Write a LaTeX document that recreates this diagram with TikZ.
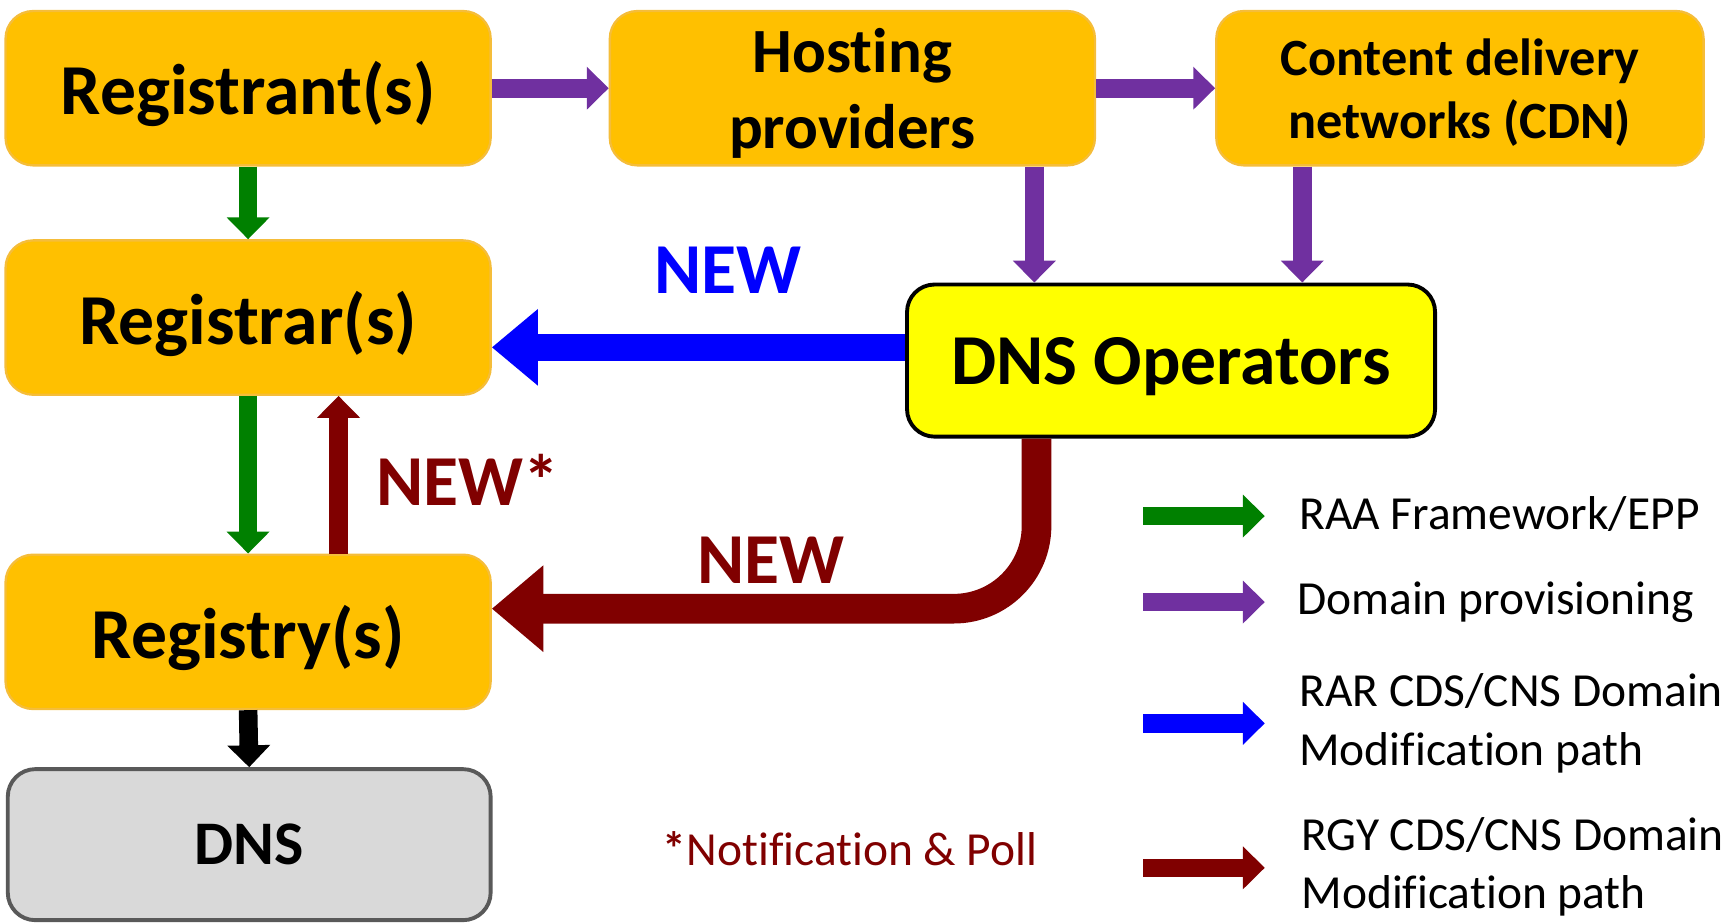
\documentclass[tikz,border=0pt]{standalone}
\usepackage{fontspec}
\setmainfont{Carlito}[Ligatures=NoCommon]
\usepackage{xcolor}
\usetikzlibrary{arrows.meta}
\usetikzlibrary{positioning}
\definecolor{C0}{HTML}{FFC000}
\definecolor{C1}{HTML}{F5BD3A}
\definecolor{C2}{HTML}{008000}
\definecolor{C3}{HTML}{7030A0}
\definecolor{C4}{HTML}{0000FF}
\definecolor{C5}{HTML}{800000}
\definecolor{C6}{HTML}{D9D9D9}
\definecolor{C7}{HTML}{595959}
\definecolor{C8}{HTML}{FFFF00}
\tikzset{
  box/.style={rounded corners=0.5cm, minimum width=8.8cm, minimum height=2.8cm,
    align=center, inner sep=0pt, text depth=0pt, font=\fontsize{37}{44}\selectfont\bfseries},
  orangebox/.style={box, fill=C0, draw=C1, line width=1.2pt},
  flowarrow/.style={line width=9.6pt, -{Triangle[length=11.3pt,width=21.5pt]}},
  bluearrow/.style={C4, line width=13.6pt, -{Triangle[length=23.8pt,width=38pt]}},
  redarrow/.style={C5, line width=15.3pt, rounded corners=1.5cm, -{Triangle[length=26.6pt,width=43pt]}},
  newlabel/.style={font=\fontsize{37}{44}\selectfont\bfseries},
  legendtext/.style={anchor=west, align=left, inner sep=0pt, font=\fontsize{24.5}{30}\selectfont}
}

\begin{document}
\begin{tikzpicture}[x=0.02cm,y=-0.02cm]
\useasboundingbox (0,0) rectangle (1568,837);
% boxes
\node[orangebox] (ant) at (225,80) {Registrant(s)};
\node[orangebox, font=\fontsize{32.5}{39}\selectfont\bfseries] (host) at (773,80) {Hosting\\providers};
\node[orangebox, minimum width=8.84cm, font=\fontsize{27}{32.5}\selectfont\bfseries] (cdn) at (1324,80) {Content delivery\\networks (CDN)};
\node[orangebox] (rar) at (225,288) {Registrar(s)};
\node[orangebox] (rgy) at (225,573) {Registry(s)};
\node[box, fill=C6, draw=C7, line width=2pt, minimum width=8.76cm, minimum height=2.74cm,
  font=\fontsize{32}{38}\selectfont\bfseries] (dns) at (226,766) {DNS};
\node[box, fill=C8, draw=black, line width=2pt, minimum width=9.58cm, minimum height=2.76cm] (ops) at (1062,327) {DNS Operators};
% tracks
\coordinate (px1) at (938,0);
\coordinate (px2) at (1181,0);
\coordinate (px3) at (307,0);
\coordinate (px4) at (940,0);
\coordinate (py1) at (0,315);
\coordinate (py2) at (0,552);
% connectors
\draw[flowarrow, C3] (ant.east) -- (host.west);
\draw[flowarrow, C3] (host.east) -- (cdn.west);
\draw[flowarrow, C3] (host.south -| px1) -- (ops.north -| px1);
\draw[flowarrow, C3] (cdn.south -| px2) -- (ops.north -| px2);
\draw[flowarrow, C2] (ant.south) -- (rar.north);
\draw[flowarrow, C2] (rar.south) -- (rgy.north);
\draw[flowarrow, C5] (rgy.north -| px3) -- (rar.south -| px3);
\draw[flowarrow, black] (rgy.south) -- (dns.north);
\draw[bluearrow] (ops.west |- py1) -- (rar.east |- py1);
\draw[redarrow] (ops.south -| px4) -- (px4 |- py2) -- (rgy.east |- py2);
% labels
\node[newlabel, C4] (new1) at (660,245) {NEW};
\node[newlabel, C5] (new2) at (424,435) {NEW*};
\node[newlabel, C5] (new3) at (699,508) {NEW};
\node[C5, font=\fontsize{24.5}{30}\selectfont] (note) at (771,770) {\textbf{*}Notification \& Poll};
% legend
\coordinate (la1) at (1037,468); \coordinate (lb1) at (1147,468);
\coordinate (la2) at (1037,546); \coordinate (lb2) at (1147,546);
\coordinate (la3) at (1037,656); \coordinate (lb3) at (1147,656);
\coordinate (la4) at (1037,787); \coordinate (lb4) at (1147,787);
\draw[flowarrow, C2] (la1) -- (lb1);
\draw[flowarrow, C3] (la2) -- (lb2);
\draw[flowarrow, C4] (la3) -- (lb3);
\draw[flowarrow, C5] (la4) -- (lb4);
\node[legendtext] (lg1) at (1178,466) {RAA Framework/EPP};
\node[legendtext] (lg2) at (1176,546) {Domain provisioning};
\node[legendtext] (lg3) at (1178,656) {RAR CDS/CNS Domain\\Modification path};
\node[legendtext] (lg4) at (1180,786) {RGY CDS/CNS Domain\\Modification path};
\end{tikzpicture}
\end{document}
